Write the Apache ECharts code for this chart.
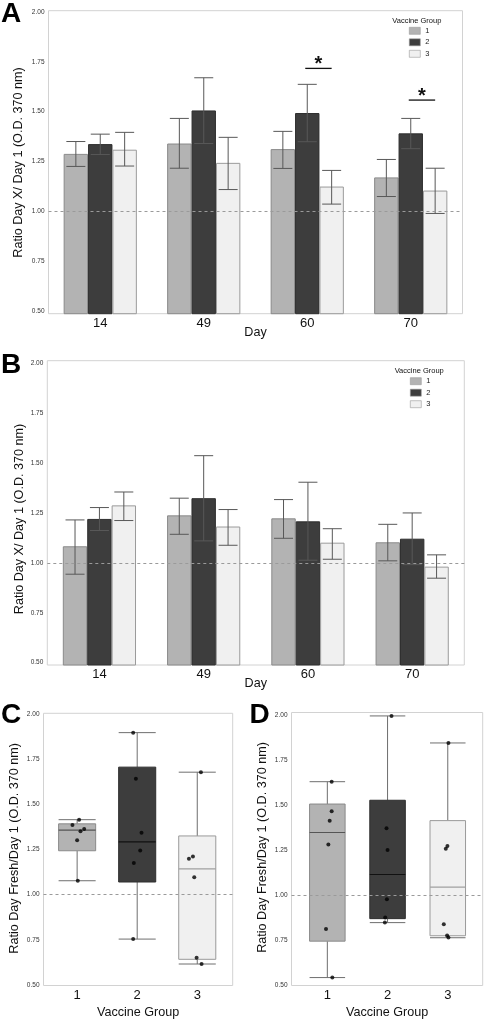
<!DOCTYPE html>
<html><head><meta charset="utf-8">
<script src="https://cdn.jsdelivr.net/npm/echarts@6/dist/echarts.min.js"></script>
<style>html,body{margin:0;padding:0;background:#fff}#c{width:494px;height:1020px}</style>
</head><body><div id="c"></div>
<script>
// ---------------- DATA ----------------
const days = ['14', '49', '60', '70'];
const groups = ['1', '2', '3'];
const yTicks = [0.5, 0.75, 1.0, 1.25, 1.5, 1.75, 2.0];
const boxCats = [1, 2, 3];

// Panel A: mean ratio and error bar limits per vaccine group
const aMean1 = [1.288, 1.340, 1.312, 1.170];
const aMean2 = [1.337, 1.506, 1.493, 1.391];
const aMean3 = [1.309, 1.243, 1.124, 1.104];
const aLow1  = [1.225, 1.216, 1.215, 1.074];
const aHigh1 = [1.350, 1.466, 1.401, 1.260];
const aLow2  = [1.285, 1.340, 1.349, 1.314];
const aHigh2 = [1.387, 1.670, 1.637, 1.466];
const aLow3  = [1.227, 1.109, 1.036, 0.989];
const aHigh3 = [1.396, 1.371, 1.205, 1.216];
// significance brackets: [day index, from group, to group, height]
const aSig = [[2, 1, 2, 1.717], [3, 1, 2, 1.558]];

// Panel B
const bMean1 = [1.083, 1.238, 1.223, 1.103];
const bMean2 = [1.220, 1.324, 1.208, 1.121];
const bMean3 = [1.288, 1.182, 1.101, 0.981];
const bLow1  = [0.943, 1.143, 1.123, 1.010];
const bHigh1 = [1.215, 1.324, 1.317, 1.193];
const bLow2  = [1.162, 1.110, 1.013, 0.991];
const bHigh2 = [1.277, 1.537, 1.404, 1.250];
const bLow3  = [1.212, 1.088, 1.018, 0.923];
const bHigh3 = [1.355, 1.267, 1.171, 1.040];

// Panel C: box stats [min, q1, median, q3, max] and points
const cBox1 = [1.077, 1.243, 1.357, 1.392, 1.415];
const cBox2 = [0.754, 1.070, 1.292, 1.706, 1.897];
const cBox3 = [0.616, 0.642, 1.143, 1.325, 1.678];
const cPts1 = [1.415, 1.386, 1.364, 1.351, 1.301, 1.077];
const cPts2 = [1.897, 1.642, 1.342, 1.245, 1.175, 0.754];
const cPts3 = [1.678, 1.211, 1.199, 1.096, 0.651, 0.616];
const cJit1 = [0.033, -0.078, 0.117, 0.056, 0.0, 0.011];
const cJit2 = [-0.067, -0.022, 0.072, 0.05, -0.056, -0.067];
const cJit3 = [0.061, -0.072, -0.139, -0.05, -0.011, 0.072];

// Panel D
const dBox1 = [0.544, 0.746, 1.349, 1.507, 1.631];
const dBox2 = [0.849, 0.871, 1.116, 1.528, 1.996];
const dBox3 = [0.765, 0.776, 1.046, 1.415, 1.846];
const dPts1 = [1.631, 1.467, 1.414, 1.283, 0.813, 0.544];
const dPts2 = [1.996, 1.373, 1.252, 0.978, 0.877, 0.849];
const dPts3 = [1.846, 1.274, 1.259, 0.840, 0.778, 0.767];
const dJit1 = [0.072, 0.072, 0.039, 0.017, -0.022, 0.083];
const dJit2 = [0.066, -0.017, 0.0, -0.011, -0.039, -0.044];
const dJit3 = [0.011, -0.006, -0.033, -0.066, -0.011, 0.011];

// ---------------- STYLE ----------------
const FONT = 'Liberation Sans, Arial, Helvetica, sans-serif';
const fills = ['#b3b3b3', '#3d3d3d', '#f0f0f0'];
const borders = ['#8a8a8a', '#2e2e2e', '#9a9a9a'];
const medians = ['#555555', '#111111', '#a0a0a0'];
const BAR_W = 24.4, CAP = 19;

const chart = echarts.init(document.getElementById('c'), null, {renderer: 'canvas'});

function yAxis(gi, min, max) {
  return {
    type: 'value', gridIndex: gi, min, max,
    axisLine: {show: false}, axisTick: {show: false}, splitLine: {show: false},
    axisLabel: {customValues: yTicks, formatter: v => v.toFixed(2), fontSize: 6.5,
      color: '#333', margin: 4, fontFamily: FONT}
  };
}
function catX(gi) {
  return {
    type: 'category', gridIndex: gi, data: days, boundaryGap: true,
    axisLine: {show: false}, axisTick: {show: false},
    axisLabel: {fontSize: 13, color: '#111', margin: 3, fontFamily: FONT},
    name: 'Day', nameLocation: 'middle', nameGap: 12, nameMoveOverlap: false,
    nameTextStyle: {fontSize: 12.6, color: '#111', fontFamily: FONT}
  };
}
function valX(gi, min, max) {
  return {
    type: 'value', gridIndex: gi, min, max,
    axisLine: {show: false}, axisTick: {show: false}, splitLine: {show: false},
    axisLabel: {customValues: boxCats, formatter: v => String(Math.round(v)), fontSize: 13,
      color: '#111', margin: 3, fontFamily: FONT},
    name: 'Vaccine Group', nameLocation: 'middle', nameGap: 20.5, nameMoveOverlap: false,
    nameTextStyle: {fontSize: 12.6, color: '#111', fontFamily: FONT}
  };
}
function dashLine(ai) {
  return {
    type: 'line', xAxisIndex: ai, yAxisIndex: ai, data: [], z: 1, silent: true,
    markLine: {silent: true, symbol: 'none', label: {show: false},
      lineStyle: {color: '#9a9a9a', type: [3, 3], width: 1}, data: [{yAxis: 1}]}
  };
}
function bars(ai, means) {
  return means.map((m, g) => ({
    type: 'bar', name: groups[g], xAxisIndex: ai, yAxisIndex: ai, data: m,
    barWidth: BAR_W, barGap: '0%', z: 2,
    itemStyle: {color: fills[g], borderColor: borders[g], borderWidth: 1}
  }));
}
function errSeries(ai, lows, highs) {
  const data = [];
  lows.forEach((lo, g) => lo.forEach((v, i) => data.push([i, v, highs[g][i], g])));
  return {
    type: 'custom', xAxisIndex: ai, yAxisIndex: ai, z: 3, silent: true, data,
    encode: {x: 0, y: [1, 2]},
    renderItem: (p, api) => {
      const i = api.value(0), lo = api.value(1), hi = api.value(2), g = api.value(3);
      const a = api.coord([i, lo]), b = api.coord([i, hi]);
      const cx = a[0] + (g - 1) * BAR_W, h = CAP / 2;
      const st = {stroke: '#585858', lineWidth: 1};
      return {type: 'group', children: [
        {type: 'line', shape: {x1: cx, y1: a[1], x2: cx, y2: b[1]}, style: st},
        {type: 'line', shape: {x1: cx - h, y1: b[1], x2: cx + h, y2: b[1]}, style: st},
        {type: 'line', shape: {x1: cx - h, y1: a[1], x2: cx + h, y2: a[1]}, style: st}
      ]};
    }
  };
}
function sigSeries(ai, sig) {
  return {
    type: 'custom', xAxisIndex: ai, yAxisIndex: ai, z: 4, silent: true, data: sig,
    encode: {x: 0, y: 3},
    renderItem: (p, api) => {
      const i = api.value(0), g1 = api.value(1), g2 = api.value(2), y = api.value(3);
      const c = api.coord([i, y]);
      const x1 = c[0] + (g1 - 1) * BAR_W - 2, x2 = c[0] + (g2 - 1) * BAR_W;
      return {type: 'group', children: [
        {type: 'line', shape: {x1, y1: c[1], x2, y2: c[1]}, style: {stroke: '#111', lineWidth: 1.3}},
        {type: 'text', x: (x1 + x2) / 2, y: c[1] - 3.5,
          style: {text: '*', fontSize: 20, fontWeight: 'bold', fontFamily: FONT, fill: '#111',
            align: 'center', verticalAlign: 'middle'}}
      ]};
    }
  };
}
function boxSeries(ai, boxes, boxW) {
  const data = boxes.map((b, k) => [boxCats[k]].concat(b).concat([k]));
  return {
    type: 'custom', xAxisIndex: ai, yAxisIndex: ai, z: 2, silent: true, data,
    encode: {x: 0, y: [1, 5]},
    renderItem: (p, api) => {
      const x = api.value(0), k = api.value(6);
      const w = api.size([boxW, 0])[0], h = w / 2;
      const pmin = api.coord([x, api.value(1)]), pq1 = api.coord([x, api.value(2)]);
      const pmed = api.coord([x, api.value(3)]), pq3 = api.coord([x, api.value(4)]);
      const pmax = api.coord([x, api.value(5)]);
      const cx = pmin[0];
      const ws = {stroke: '#6e6e6e', lineWidth: 1};
      return {type: 'group', children: [
        {type: 'line', shape: {x1: cx, y1: pq3[1], x2: cx, y2: pmax[1]}, style: ws},
        {type: 'line', shape: {x1: cx, y1: pq1[1], x2: cx, y2: pmin[1]}, style: ws},
        {type: 'line', shape: {x1: cx - h, y1: pmax[1], x2: cx + h, y2: pmax[1]}, style: ws},
        {type: 'line', shape: {x1: cx - h, y1: pmin[1], x2: cx + h, y2: pmin[1]}, style: ws},
        {type: 'rect', shape: {x: cx - h, y: pq3[1], width: w, height: pq1[1] - pq3[1]},
          style: {fill: fills[k], stroke: borders[k], lineWidth: 1}},
        {type: 'line', shape: {x1: cx - h, y1: pmed[1], x2: cx + h, y2: pmed[1]},
          style: {stroke: medians[k], lineWidth: 1.2}}
      ]};
    }
  };
}
function ptsSeries(ai, ptsList, jitList) {
  const data = [];
  ptsList.forEach((pts, k) => pts.forEach((v, j) => data.push([boxCats[k] + jitList[k][j], v])));
  return {type: 'scatter', xAxisIndex: ai, yAxisIndex: ai, z: 5, silent: true, data,
    symbolSize: 4, itemStyle: {color: '#000'}};
}
function legend(left, top) {
  return {
    data: groups, orient: 'vertical', left, top, itemWidth: 11, itemHeight: 7, itemGap: 3.5,
    icon: 'rect', selectedMode: false, padding: 0, itemStyle: {borderColor: '#9a9a9a', borderWidth: 0.6},
    textStyle: {fontSize: 7.5, color: '#222', fontFamily: FONT}
  };
}
function txt(text, x, y, size, opts) {
  return Object.assign({type: 'text', x, y, silent: true,
    style: {text, fontSize: size, fontFamily: FONT, fill: '#111', align: 'center', verticalAlign: 'middle'}}, opts || {});
}
function letter(text, x, y) {
  return {type: 'text', x, y, silent: true,
    style: {text, fontSize: 28, fontWeight: 'bold', fontFamily: FONT, fill: '#000', align: 'left', verticalAlign: 'middle'}};
}
function ytitle(text, x, y) {
  return {type: 'text', x, y, rotation: Math.PI / 2, silent: true,
    style: {text, fontSize: 12.6, fontFamily: FONT, fill: '#111', align: 'center', verticalAlign: 'middle'}};
}

const gridStyle = {show: true, borderColor: '#d2d2d2', borderWidth: 1, backgroundColor: '#fff', containLabel: false};

const option = {
  animation: false,
  backgroundColor: '#fff',
  grid: [
    Object.assign({left: 48.5, top: 10.7, width: 414, height: 303}, gridStyle),
    Object.assign({left: 47.3, top: 360.7, width: 417, height: 304.3}, gridStyle),
    Object.assign({left: 43.5, top: 713.3, width: 189.2, height: 273.2}, gridStyle),
    Object.assign({left: 291.5, top: 712.5, width: 191.2, height: 274.5}, gridStyle)
  ],
  xAxis: [catX(0), catX(1), valX(2, 0.44, 3.59), valX(3, 0.405, 3.58)],
  yAxis: [yAxis(0, 0.486, 2.0065), yAxis(1, 0.488, 2.013), yAxis(2, 0.497, 2.004), yAxis(3, 0.5, 2.015)],
  legend: [legend(409, 26.8), legend(410, 377.2)],
  graphic: [
    letter('A', 1, 14), letter('B', 1, 365), letter('C', 1, 715), letter('D', 249.5, 715),
    ytitle('Ratio Day X/ Day 1 (O.D. 370 nm)', 19, 162.5),
    ytitle('Ratio Day X/ Day 1 (O.D. 370 nm)', 20, 519),
    ytitle('Ratio Day Fresh/Day 1 (O.D. 370 nm)', 14.5, 848.3),
    ytitle('Ratio Day Fresh/Day 1 (O.D. 370 nm)', 262.5, 847.5),
    txt('Vaccine Group', 416.8, 21.3, 7.5, {}),
    txt('Vaccine Group', 419.2, 371, 7.5, {})
  ],
  series: [
    dashLine(0), dashLine(1), dashLine(2), dashLine(3),
    ...bars(0, [aMean1, aMean2, aMean3]),
    errSeries(0, [aLow1, aLow2, aLow3], [aHigh1, aHigh2, aHigh3]),
    sigSeries(0, aSig),
    ...bars(1, [bMean1, bMean2, bMean3]),
    errSeries(1, [bLow1, bLow2, bLow3], [bHigh1, bHigh2, bHigh3]),
    boxSeries(2, [cBox1, cBox2, cBox3], 0.617),
    ptsSeries(2, [cPts1, cPts2, cPts3], [cJit1, cJit2, cJit3]),
    boxSeries(3, [dBox1, dBox2, dBox3], 0.59),
    ptsSeries(3, [dPts1, dPts2, dPts3], [dJit1, dJit2, dJit3])
  ]
};
chart.setOption(option);
</script>
</body></html>
